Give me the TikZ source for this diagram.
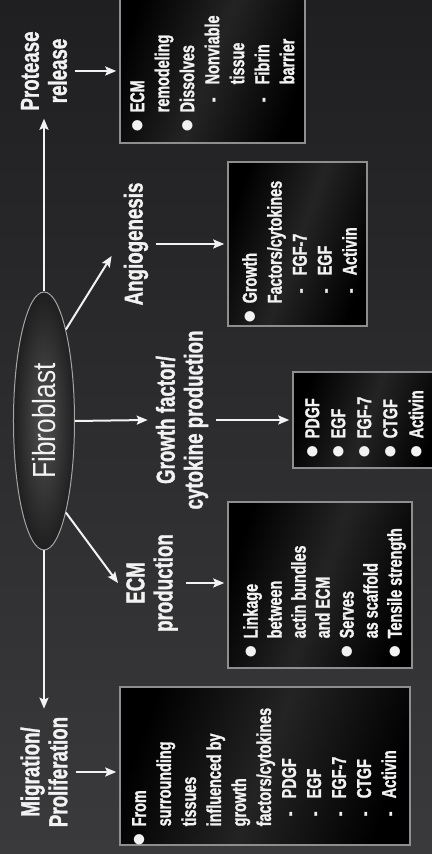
\documentclass[tikz,border=0pt]{standalone}
\usepackage{fontspec}
\setmainfont{Liberation Sans}[FakeStretch=0.72,BoldFeatures={FakeBold=1.2}]
\newfontfamily\fibfont{Liberation Sans}[FakeStretch=0.82]
\usetikzlibrary{arrows.meta,shapes.geometric,calc}
\definecolor{bgdark}{HTML}{1F1E20}
\definecolor{bglight}{HTML}{3A393B}
\definecolor{edge}{HTML}{8E8E8E}
\definecolor{ink}{HTML}{F2F2F2}
\newcommand{\bul}{\makebox[20pt][l]{\scalebox{1.3}{$\bullet$}}}
\newcommand{\ind}{\hspace*{20pt}}
\newcommand{\dsh}{\hspace*{30pt}\makebox[18pt][l]{-}}
\newcommand{\subind}{\hspace*{48pt}}
\begin{document}
\begin{tikzpicture}[x=1pt,y=1pt,rotate=90,transform shape,
  headline/.style={text=ink,font=\bfseries\fontsize{26}{28}\selectfont,align=center,inner sep=8pt},
  panel/.style={draw=edge,line width=1.5pt,left color=black,right color=black,middle color=black!86!white,shading angle=70},
  paneltext/.style={text=ink,font=\bfseries\fontsize{20}{25}\selectfont,align=left,inner sep=0pt,anchor=north west},
  arr/.style={draw=ink,line width=2pt,-{Stealth[length=11pt,width=9pt,inset=2pt]}}]
\useasboundingbox (0,0) rectangle (854,432);
\clip (0,0) rectangle (854,432);
\fill[top color=bgdark,bottom color=bglight] (0,0) rectangle (854,432);

\node[ellipse,draw=edge!80!white,line width=1pt,inner color=black!68!white,outer color=black!88!white,
  minimum width=258pt,minimum height=61pt,inner sep=0pt,text=ink,font=\fibfont\fontsize{32}{32}\selectfont] (fib) at (433,388) {Fibroblast};

\node[headline] (mig) at (82,388) {Migration/\\Proliferation};
\node[headline] (ecm) at (271,280) {ECM\\production};
\node[headline] (gf) at (434,250) {Growth factor/\\cytokine production};
\node[headline] (ang) at (610,296) {Angiogenesis};
\node[headline] (prot) at (783,388) {Protease\\release};

\node[panel,minimum width=158pt,minimum height=290pt] (migbox) at (88,167) {};
\node[panel,minimum width=166pt,minimum height=184pt] (ecmbox) at (269,112) {};
\node[panel,minimum width=96pt,minimum height=149pt] (gfbox) at (434,64.5) {};
\node[panel,minimum width=164pt,minimum height=139pt] (angbox) at (610,134.5) {};
\node[panel,minimum width=159pt,minimum height=185pt] (protbox) at (790.5,219.5) {};

\node[paneltext] (migtxt) at (7.5,300) {\bul From\\\ind surrounding\\\ind tissues\\\ind influenced by\\\ind growth\\\ind factors/cytokines\\\dsh PDGF\\\dsh EGF\\\dsh FGF-7\\\dsh CTGF\\\dsh Activin};
\node[paneltext,font=\bfseries\fontsize{20}{24}\selectfont] (ecmtxt) at (195.5,189) {\bul Linkage\\\ind between\\\ind actin bundles\\\ind and ECM\\\bul Serves\\\ind as scaffold\\\bul Tensile strength};
\node[paneltext,font=\bfseries\fontsize{20}{26}\selectfont] (gftxt) at (395.5,127) {\bul PDGF\\\bul EGF\\\bul FGF-7\\\bul CTGF\\\bul Activin};
\node[paneltext] (angtxt) at (530.5,190) {\bul Growth\\\ind Factors/cytokines\\\dsh FGF-7\\\dsh EGF\\\dsh Activin};
\node[paneltext] (prottxt) at (721.5,302) {\bul ECM\\\ind remodeling\\\bul Dissolves\\\dsh Nonviable\\\subind tissue\\\dsh Fibrin\\\subind barrier};

\draw[arr] (fib.west) -- (mig.east);
\draw[arr] (fib.east) -- (prot.west);
\draw[arr] (fib.south west) -- (ecm.north);
\draw[arr] (fib.south) -- (gf.north);
\draw[arr] (fib.south east) -- ($(ang.north)+(-12,4)$);

\draw[arr,shorten >=3pt] (mig.south) -- (mig.south |- migbox.north);
\draw[arr,shorten >=3pt] (ecm.south) -- (ecm.south |- ecmbox.north);
\draw[arr,shorten >=3pt] (gf.south) -- (gf.south |- gfbox.north);
\draw[arr,shorten >=3pt] (ang.south) -- (ang.south |- angbox.north);
\draw[arr,shorten >=3pt] (prot.south) -- (prot.south |- protbox.north);
\end{tikzpicture}
\end{document}
